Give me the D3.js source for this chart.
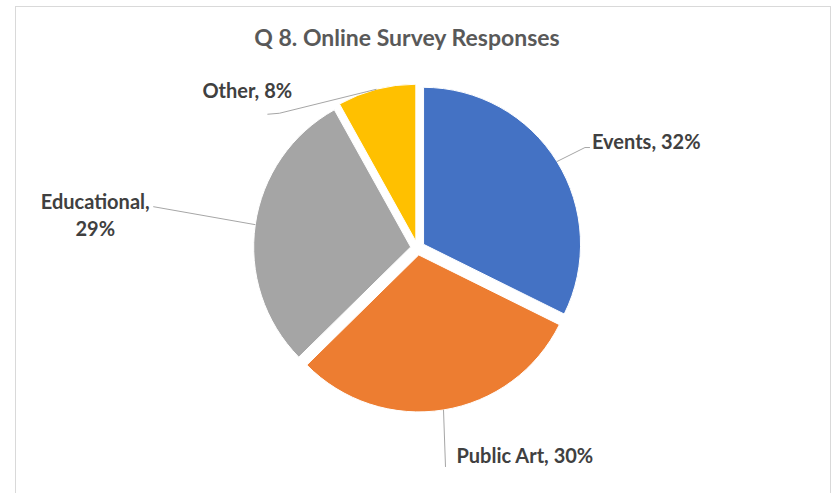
<!DOCTYPE html>
<html>
<head>
<meta charset="utf-8">
<script src="https://cdn.jsdelivr.net/npm/d3@7"></script>
<style>
  html, body { margin: 0; padding: 0; background: #ffffff; }
  svg { display: block; }
</style>
</head>
<body>
<svg id="chart" width="835" height="493"></svg>
<script>
// Survey categories and their share of responses (%)
const categories = ["Events", "Public Art", "Educational", "Other"];
const shares = [32, 30, 29, 8];
const labelLines = [["Events, 32%"], ["Public Art, 30%"], ["Educational,", "29%"], ["Other, 8%"]];
const title = "Q 8. Online Survey Responses";

const colors = ["#4472C4", "#ED7D31", "#A5A5A5", "#FFC000"];

// Label placement relative to where each leader line leaves its slice
const labelLayout = [
  { path: [[28, -14], [33, -14]], text: [35, -13], anchor: "start" },
  { path: [[2, 57]], text: [13, 53], anchor: "start" },
  { path: [[-102, -18]], text: [-160, -16], anchor: "middle", lineGap: 27 },
  { path: [[-97, 24], [-109, 25]], text: [-174, 9], anchor: "start" }
];

const W = 835, H = 493;
const cx = 417.6, cy = 248, radius = 157, explode = 7;

const svg = d3.select("#chart");

// chart frame
svg.append("rect")
  .attr("x", 15.5).attr("y", 6.5)
  .attr("width", 815).attr("height", 520)
  .attr("fill", "#ffffff")
  .attr("stroke", "#D9D9D9").attr("stroke-width", 1);

svg.append("text")
  .attr("x", 407).attr("y", 46)
  .attr("text-anchor", "middle")
  .attr("font-family", "Lato, 'Open Sans', sans-serif")
  .attr("font-weight", 700)
  .attr("font-size", 23)
  .attr("fill", "#595959")
  .text(title);

const pie = d3.pie().sort(null).value(d => d)(shares);
const arc = d3.arc().innerRadius(0).outerRadius(radius);

const slices = pie.map((p, i) => {
  const mid = (p.startAngle + p.endAngle) / 2;
  const ox = cx + Math.sin(mid) * explode;
  const oy = cy - Math.cos(mid) * explode;
  return {
    p, i, mid, ox, oy,
    edge: [ox + Math.sin(mid) * radius, oy - Math.cos(mid) * radius]
  };
});

svg.append("g").selectAll("path")
  .data(slices)
  .join("path")
  .attr("transform", d => `translate(${d.ox},${d.oy})`)
  .attr("d", d => arc(d.p))
  .attr("fill", d => colors[d.i])
  .attr("stroke", "#ffffff")
  .attr("stroke-width", 1);

// leader lines
const line = d3.line();
svg.append("g").selectAll("path")
  .data(slices)
  .join("path")
  .attr("d", d => {
    const L = labelLayout[d.i];
    const pts = [d.edge].concat(L.path.map(([dx, dy]) => [d.edge[0] + dx, d.edge[1] + dy]));
    return line(pts);
  })
  .attr("fill", "none")
  .attr("stroke", "#A6A6A6")
  .attr("stroke-width", 1);

// data labels
const labels = svg.append("g").selectAll("text")
  .data(slices)
  .join("text")
  .attr("text-anchor", d => labelLayout[d.i].anchor)
  .attr("font-family", "Lato, 'Open Sans', sans-serif")
  .attr("font-weight", 700)
  .attr("font-size", 20)
  .attr("fill", "#404040");

labels.each(function (d) {
  const L = labelLayout[d.i];
  const x = d.edge[0] + L.text[0];
  const y = d.edge[1] + L.text[1];
  d3.select(this).selectAll("tspan")
    .data(labelLines[d.i])
    .join("tspan")
    .attr("x", x)
    .attr("y", (t, k) => y + k * (L.lineGap || 0))
    .text(t => t);
});
</script>
</body>
</html>
